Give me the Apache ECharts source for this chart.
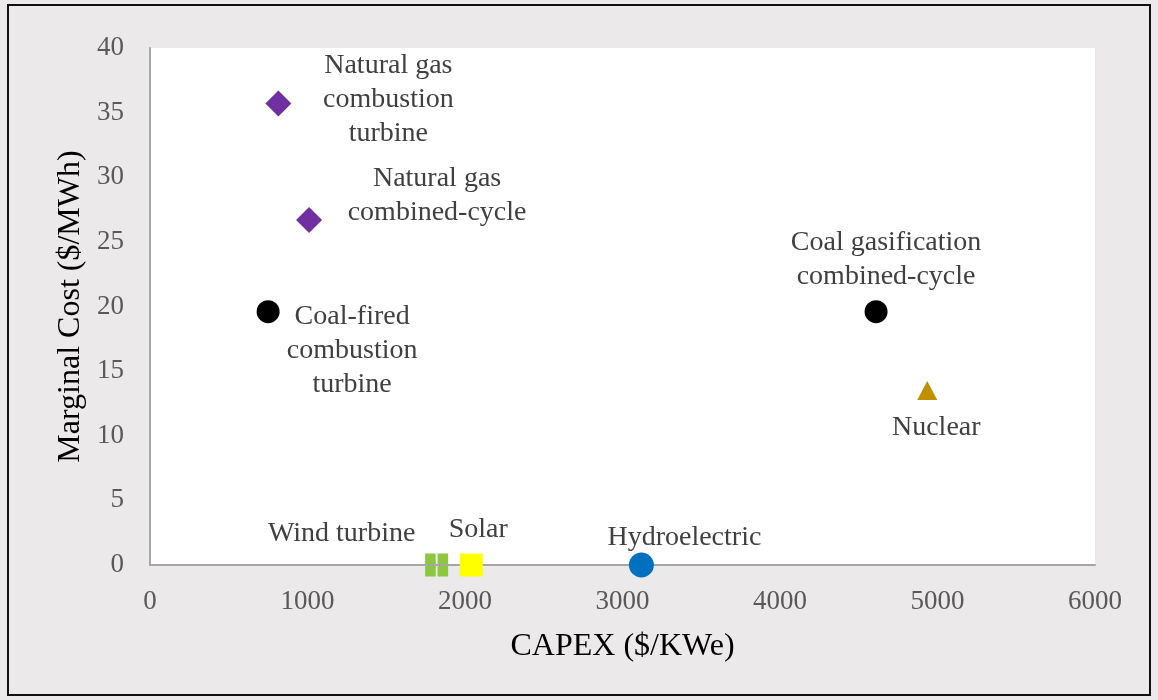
<!DOCTYPE html>
<html>
<head>
<meta charset="utf-8">
<script src="https://cdn.jsdelivr.net/npm/echarts@6/dist/echarts.min.js"></script>
<style>
  html, body { margin: 0; padding: 0; background: #ece9ea; }
  #chart { width: 1158px; height: 700px; }
</style>
</head>
<body>
<div id="chart"></div>
<script>
// technologies, CAPEX ($/KWe) and marginal cost ($/MWh)
const techNames = [
    'Natural gas\ncombustion\nturbine',
    'Natural gas\ncombined-cycle',
    'Coal-fired\ncombustion\nturbine',
    'Coal gasification\ncombined-cycle',
    'Nuclear',
    'Wind turbine',
    'Solar',
    'Hydroelectric'
];
const capex = [815, 1010, 750, 4610, 4935, 1820, 2040, 3120];
const marginalCost = [35.7, 26.7, 19.6, 19.6, 13.5, 0, 0, 0];

const xTicks = [0, 1000, 2000, 3000, 4000, 5000, 6000];
const yTicks = [0, 5, 10, 15, 20, 25, 30, 35, 40];

const serif = '"Liberation Serif", "Times New Roman", serif';

// marker style + label offset for each point
const styles = [
    { symbol: 'diamond', size: [26, 26], color: '#7030a0', offset: [110, -4] },
    { symbol: 'diamond', size: [26, 26], color: '#7030a0', offset: [128, -24] },
    { symbol: 'circle', size: 23, color: '#000000', offset: [84, 39] },
    { symbol: 'circle', size: 23, color: '#000000', offset: [10, -52] },
    { symbol: 'triangle', size: [20, 19], color: '#bf9000', offset: [9, 37] },
    { symbol: 'path://M0,0h46v46h-46zM54,0h46v46h-46zM0,54h46v46h-46zM54,54h46v46h-46z', size: 23, color: '#8dc63f', offset: [-95, -31] },
    { symbol: 'rect', size: 23, color: '#ffff00', offset: [7, -35] },
    { symbol: 'circle', size: 25, color: '#0070c0', offset: [43, -27] }
];

const series = techNames.map((name, i) => ({
    type: 'scatter',
    name: name,
    clip: false,
    symbol: styles[i].symbol,
    symbolSize: styles[i].size,
    itemStyle: { color: styles[i].color, opacity: 1 },
    data: [[capex[i], marginalCost[i]]],
    label: {
        show: true,
        position: 'inside',
        offset: styles[i].offset,
        formatter: name,
        align: 'center',
        verticalAlign: 'middle',
        color: '#404040',
        fontFamily: serif,
        fontSize: 28,
        lineHeight: 34
    }
}));

const chart = echarts.init(document.getElementById('chart'));
chart.setOption({
    backgroundColor: '#ece9ea',
    animation: false,
    graphic: [{
        type: 'rect',
        shape: { x: 8, y: 5, width: 1142, height: 690 },
        style: { fill: 'none', stroke: '#111', lineWidth: 2 },
        z: 100
    }],
    grid: {
        left: 150, right: 63, top: 48, bottom: 135,
        show: true, backgroundColor: '#ffffff', borderWidth: 0
    },
    xAxis: {
        type: 'value',
        min: xTicks[0], max: xTicks[xTicks.length - 1], interval: 1000,
        name: 'CAPEX ($/KWe)',
        nameLocation: 'middle',
        nameGap: 66,
        nameTextStyle: { color: '#000', fontFamily: serif, fontSize: 32 },
        axisLine: { lineStyle: { color: '#a6a6a6', width: 2 } },
        axisTick: { show: false },
        splitLine: { show: false },
        axisLabel: {
            color: '#595959', fontFamily: serif, fontSize: 27, margin: 23,
            formatter: v => String(v)
        }
    },
    yAxis: {
        type: 'value',
        min: yTicks[0], max: yTicks[yTicks.length - 1], interval: 5,
        name: 'Marginal Cost ($/MWh)',
        nameLocation: 'middle',
        nameGap: 61,
        nameTextStyle: { color: '#000', fontFamily: serif, fontSize: 32 },
        axisLine: { show: true, lineStyle: { color: '#a6a6a6', width: 2 } },
        axisTick: { show: false },
        splitLine: { show: false },
        axisLabel: {
            color: '#595959', fontFamily: serif, fontSize: 27, margin: 26,
            formatter: v => String(v)
        }
    },
    series: series
});
</script>
</body>
</html>
